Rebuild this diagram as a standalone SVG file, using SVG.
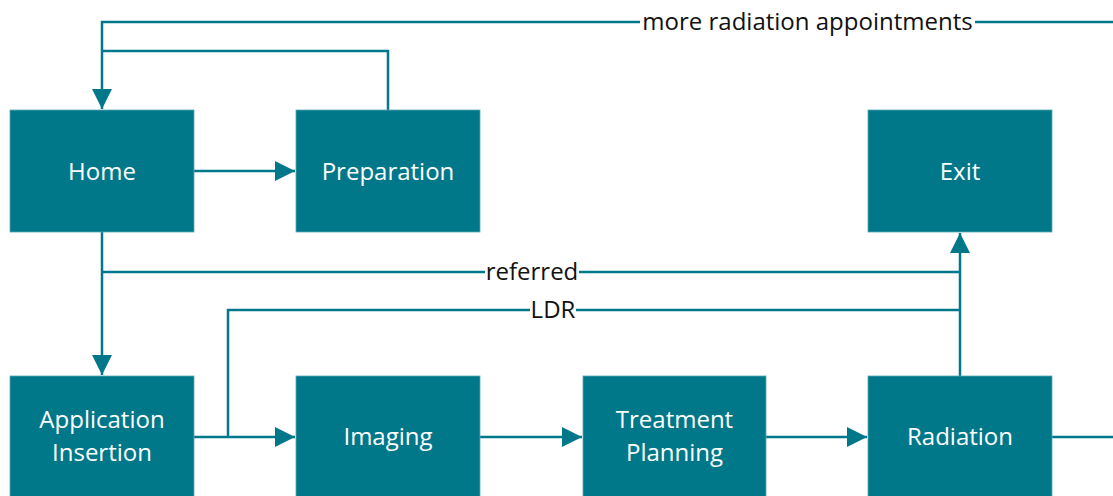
<svg xmlns="http://www.w3.org/2000/svg" width="1113" height="496" viewBox="0 0 1113 496">
<style>
.box{fill:#00788A;stroke:#5aa9b5;stroke-width:0.8}
.lbl{font-family:"Open Sans","Noto Sans",sans-serif;font-size:24px;fill:#ffffff;text-anchor:middle}
.cl{font-family:"Open Sans","Noto Sans",sans-serif;font-size:24px;fill:#111111;text-anchor:middle}
.ln{fill:none;stroke:#00788A;stroke-width:2.5}
</style>
<defs>
<marker id="ah" markerUnits="userSpaceOnUse" markerWidth="20" markerHeight="20" viewBox="0 0 18 18" refX="18" refY="9" orient="auto">
<path d="M0,0 L18,9 L0,18 Z" fill="#00788A"/>
</marker>
</defs>
<rect width="1113" height="496" fill="#ffffff"/>
<g id="connectors">
<path class="ln" d="M1052,437 H1125 V22 H102 V109" marker-end="url(#ah)"/>
<path class="ln" d="M388,110 V51 H102"/>
<path class="ln" d="M194,171 H295" marker-end="url(#ah)"/>
<path class="ln" d="M102,232 V375" marker-end="url(#ah)"/>
<path class="ln" d="M102,272 H960"/>
<path class="ln" d="M194,437 H295" marker-end="url(#ah)"/>
<path class="ln" d="M228,437 V310 H960"/>
<path class="ln" d="M480,437 H582" marker-end="url(#ah)"/>
<path class="ln" d="M766,437 H867" marker-end="url(#ah)"/>
<path class="ln" d="M960,376 V233" marker-end="url(#ah)"/>
<rect x="640" y="8" width="335" height="28" fill="#ffffff"/>
<text class="cl" x="807.5" y="30">more radiation appointments</text>
<rect x="485" y="258" width="94" height="28" fill="#ffffff"/>
<text class="cl" x="532" y="280">referred</text>
<rect x="530" y="296" width="46" height="28" fill="#ffffff"/>
<text class="cl" x="553" y="318">LDR</text>
</g>
<g id="home"><rect class="box" x="10" y="110" width="184" height="122"/><text class="lbl" x="102" y="180">Home</text></g>
<g id="preparation"><rect class="box" x="296" y="110" width="184" height="122"/><text class="lbl" x="388" y="180">Preparation</text></g>
<g id="exit"><rect class="box" x="868" y="110" width="184" height="122"/><text class="lbl" x="960" y="180">Exit</text></g>
<g id="application"><rect class="box" x="10" y="376" width="184" height="122"/><text class="lbl" x="102" y="428">Application</text><text class="lbl" x="102" y="461">Insertion</text></g>
<g id="imaging"><rect class="box" x="296" y="376" width="184" height="122"/><text class="lbl" x="388" y="445">Imaging</text></g>
<g id="treatment"><rect class="box" x="583" y="376" width="183" height="122"/><text class="lbl" x="674.5" y="428">Treatment</text><text class="lbl" x="674.5" y="461">Planning</text></g>
<g id="radiation"><rect class="box" x="868" y="376" width="184" height="122"/><text class="lbl" x="960" y="445">Radiation</text></g>
</svg>
